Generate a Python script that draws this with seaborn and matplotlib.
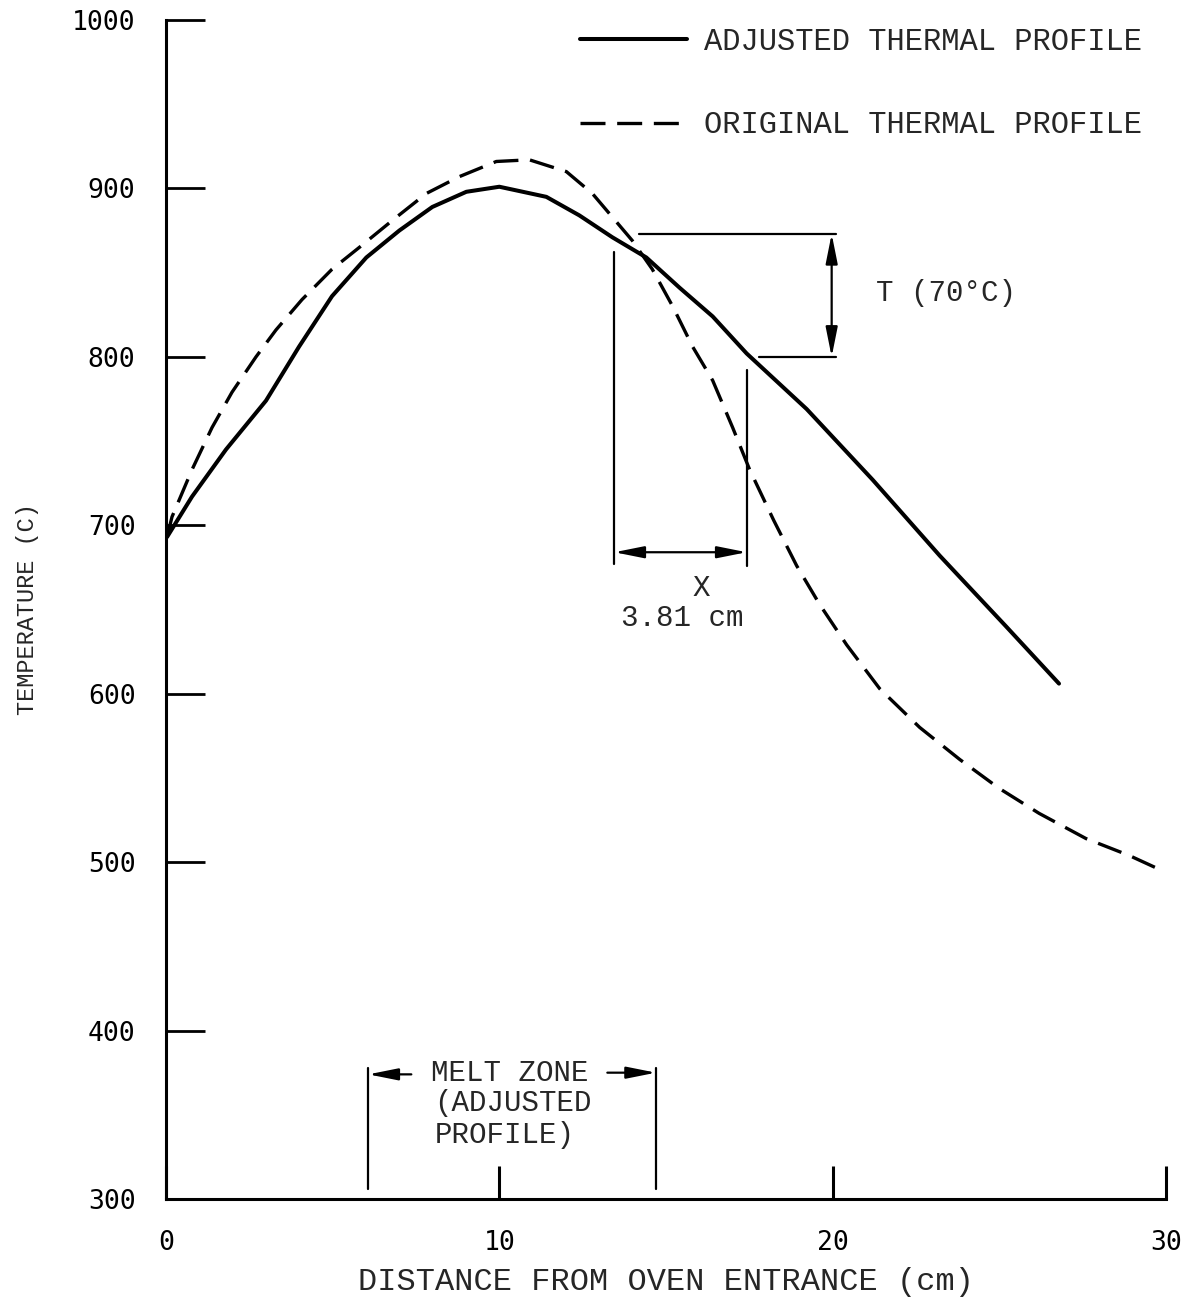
import matplotlib
matplotlib.use("Agg")
import matplotlib.pyplot as plt
import seaborn as sns
import numpy as np

# ---------------- data ----------------
adj_x = [0.03, 0.78, 1.80, 3.00, 3.99, 4.98, 6.01, 7.00, 7.99, 9.01, 10.0,
         11.41, 12.40, 13.39, 14.41, 15.41, 16.40, 17.42, 19.22, 21.20,
         23.21, 25.20, 26.79]
adj_y = [693, 717, 745, 774, 806, 836, 859, 875, 889, 898, 901,
         895, 884, 871, 859, 841, 824, 802, 769, 727,
         682, 640, 606]

orig_x = [0.03, 0.18, 0.78, 1.38, 1.98, 2.70, 3.30, 4.08, 4.98, 5.80, 6.79,
          7.81, 8.80, 9.91, 10.90, 12.01, 12.79, 13.39, 13.99, 14.59, 15.20,
          15.80, 16.40, 17.00, 17.51, 18.23, 18.92, 19.61, 20.42, 21.41,
          22.61, 23.81, 24.98, 26.19, 27.60, 28.89, 29.88]
orig_y = [693, 705, 733, 758, 779, 800, 816, 834, 852, 865, 881,
          897, 907, 916, 917, 910, 897, 883, 869, 852, 830,
          806, 786, 758, 733, 703, 676, 653, 629, 603,
          580, 561, 544, 529, 514, 504, 495]

x_ticks = [0, 10, 20, 30]
y_ticks = [300, 400, 500, 600, 700, 800, 900, 1000]
series_labels = ["ADJUSTED THERMAL PROFILE", "ORIGINAL THERMAL PROFILE"]

# ---------------- style ----------------
sns.set_style("white")
TXT = ["Liberation Mono", "DejaVu Sans Mono"]
TICKF = ["DejaVu Sans Mono"]
plt.rcParams["font.family"] = TXT

fig = plt.figure(figsize=(11.9, 13.1), dpi=100)
ax = fig.add_axes([166 / 1190, 1 - 1199 / 1310, 1000 / 1190, 1179 / 1310])

sns.lineplot(x=adj_x, y=adj_y, ax=ax, color="black", linewidth=2.9,
             label=series_labels[0], sort=False)
sns.lineplot(x=orig_x, y=orig_y, ax=ax, color="black", linewidth=2.4,
             label=series_labels[1], sort=False)
ax.lines[1].set_dashes([7.5, 3.5])

ax.set_xlim(0, 30)
ax.set_ylim(300, 1000)
ax.set_xticks(x_ticks)
ax.set_yticks(y_ticks)
ax.set_xticklabels([str(v) for v in x_ticks], family=TICKF, fontsize=19)
ax.set_yticklabels([str(v) for v in y_ticks], family=TICKF, fontsize=19)
ax.tick_params(axis="y", which="major", left=True, right=False, direction="in",
               length=28, width=2, pad=22, colors="black")
ax.tick_params(axis="x", which="major", bottom=True, top=False, direction="in",
               length=24, width=2.2, pad=22, colors="black")

for s in ["top", "right"]:
    ax.spines[s].set_visible(False)
for s in ["left", "bottom"]:
    ax.spines[s].set_linewidth(2.2)
    ax.spines[s].set_color("black")

ax.set_xlabel("DISTANCE FROM OVEN ENTRANCE (cm)", fontsize=23, family=TXT)
ax.set_ylabel("TEMPERATURE (C)", fontsize=17, family=TXT)
ax.xaxis.set_label_coords(0.5, -(1282 - 1199) / 1179)
ax.xaxis.label.set_va("center")
ax.yaxis.set_label_coords((28 - 166) / 1000, 0.5)
ax.yaxis.label.set_va("center")
ax.yaxis.label.set_ha("center")

leg = ax.legend(loc="upper left", bbox_to_anchor=(580 / 1190, 1 - 27 / 1310),
                bbox_transform=fig.transFigure, frameon=False, fontsize=22,
                handlelength=3.5, handletextpad=0.55, labelspacing=1.75,
                borderpad=0, borderaxespad=0)

# ---------------- annotations ----------------
lw_a = 1.6
arr2 = dict(arrowstyle="<|-|>,head_length=0.9,head_width=0.18", color="black",
            lw=lw_a, shrinkA=0, shrinkB=0, mutation_scale=20)
arr1 = dict(arrowstyle="-|>,head_length=0.9,head_width=0.18", color="black",
            lw=lw_a, shrinkA=0, shrinkB=0, mutation_scale=20)

# T bracket
ax.plot([14.2, 20.1], [873, 873], color="black", lw=lw_a)
ax.plot([17.8, 20.1], [800, 800], color="black", lw=lw_a)
ax.annotate("", xy=(19.97, 873), xytext=(19.97, 800), arrowprops=arr2)
ax.text(21.3, 838, "T (70°C)", fontsize=21, ha="left", va="center")

# X bracket
ax.plot([13.45, 13.45], [862, 677], color="black", lw=lw_a)
ax.plot([17.42, 17.42], [792, 676], color="black", lw=lw_a)
ax.annotate("", xy=(13.45, 684), xytext=(17.42, 684), arrowprops=arr2)
ax.text(16.07, 663, "X", fontsize=21, ha="center", va="center")
ax.text(15.5, 645, "3.81 cm", fontsize=21, ha="center", va="center")

# melt zone
ax.plot([6.07, 6.07], [378, 306], color="black", lw=lw_a)
ax.plot([14.7, 14.7], [378, 306], color="black", lw=lw_a)
ax.annotate("", xy=(6.07, 374), xytext=(7.36, 374), arrowprops=arr1)
ax.annotate("", xy=(14.7, 375), xytext=(13.24, 375), arrowprops=arr1)
ax.text(7.96, 375, "MELT ZONE", fontsize=21, ha="left", va="center")
ax.text(8.05, 357, "(ADJUSTED", fontsize=21, ha="left", va="center")
ax.text(8.05, 338, "PROFILE)", fontsize=21, ha="left", va="center")

fig.savefig("out.png", dpi=100)
